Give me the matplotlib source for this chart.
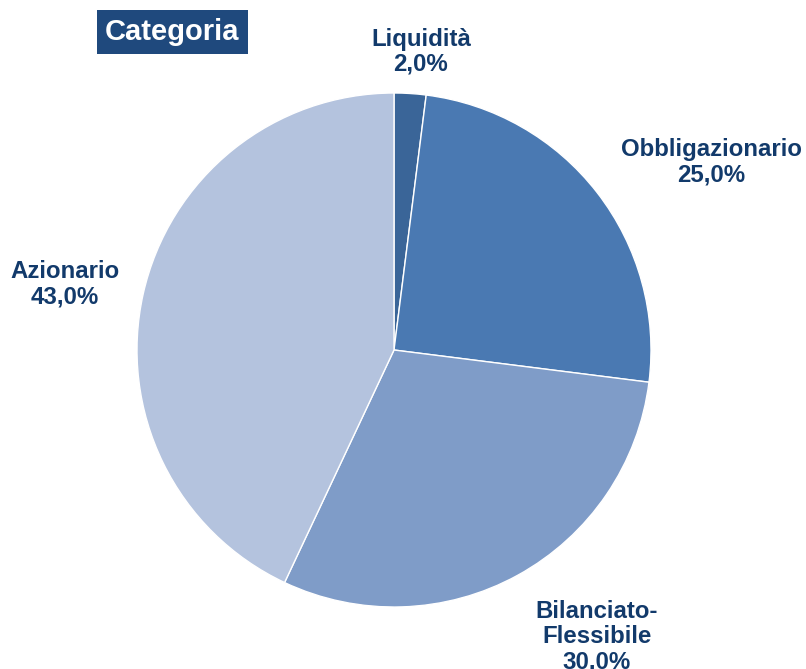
import matplotlib
matplotlib.use("Agg")
import matplotlib.pyplot as plt

categories = ["Liquidità", "Obbligazionario", "Bilanciato-\nFlessibile", "Azionario"]
values = [2.0, 25.0, 30.0, 43.0]
colors = ["#3A6598", "#4A79B2", "#7F9CC8", "#B4C3DE"]
label_pos = [(0.105, 1.16), (1.235, 0.73), (0.79, -1.115), (-1.28, 0.255)]

plt.rcParams['font.family'] = ['Liberation Sans', 'DejaVu Sans']

W, H = 806, 669
fig = plt.figure(figsize=(W / 100, H / 100), dpi=100)
cx, cy, r = 394, 350, 257
ax = fig.add_axes([(cx - r) / W, (H - cy - r) / H, 2 * r / W, 2 * r / H])
ax.pie(values, colors=colors, startangle=90, counterclock=False, radius=1,
       wedgeprops=dict(edgecolor="white", linewidth=1))
ax.set_xlim(-1, 1)
ax.set_ylim(-1, 1)
ax.set_aspect("equal")
ax.axis("off")

for cat, v, (x, y) in zip(categories, values, label_pos):
    ax.text(x, y, f"{cat}\n{v:.1f}%".replace(".", ","), ha="center", va="center",
            fontsize=17.3, fontweight="bold", color="#123A6B", linespacing=1.12,
            clip_on=False)

fig.text(172.5 / W, 1 - 32 / H, "Categoria", ha="center", va="center",
         fontsize=21, fontweight="bold", color="white",
         bbox=dict(boxstyle="square,pad=0.28", facecolor="#1F497D", edgecolor="none"))

fig.savefig("out.png", dpi=100)
